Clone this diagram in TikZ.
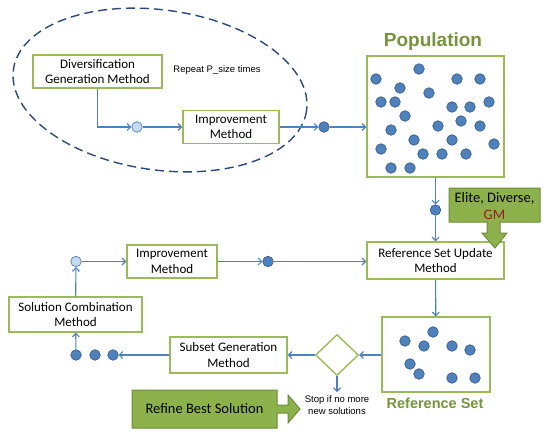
\documentclass[tikz,border=0pt]{standalone}
\usepackage{fontspec}
\setmainfont{Carlito}
\newfontfamily\arialf{Liberation Sans}
\usetikzlibrary{arrows.meta,shapes.geometric,calc}
\definecolor{boxgreen}{HTML}{9BBB59}
\definecolor{titlegreen}{HTML}{77933C}
\definecolor{fillgreen}{HTML}{8DB24C}
\definecolor{edgegreen}{HTML}{6E8B3D}
\definecolor{lineblue}{HTML}{4F81BD}
\definecolor{dotedge}{HTML}{385D8A}
\definecolor{lightdot}{HTML}{C6D9F1}
\definecolor{dashblue}{HTML}{2B4A78}
\definecolor{gmred}{HTML}{8B2323}
\tikzset{
  mbox/.style={draw=boxgreen, line width=1.4pt, fill=white, align=center, inner sep=0pt,
    font=\fontsize{13}{15.5}\selectfont},
  dot/.style={circle, fill=lineblue, draw=dotedge, line width=0.7pt, minimum size=10.5pt, inner sep=0pt},
  ldot/.style={circle, fill=lightdot, draw=lineblue, line width=0.7pt, minimum size=10.5pt, inner sep=0pt},
  arr/.style={draw=lineblue, line width=1.1pt, -{Straight Barb[length=3.5pt,width=7pt]}},
  gtitle/.style={text=titlegreen, font=\arialf\bfseries},
  gshape/.style={fill=fillgreen, draw=edgegreen, line width=1pt},
}
\begin{document}
\begin{tikzpicture}[x=1pt,y=-1pt]
\useasboundingbox (0,0) rectangle (550,437);
% dashed ellipse
\draw[dashblue, line width=1.4pt, dash pattern=on 9pt off 5pt] (160,90) ellipse[x radius=148, y radius=80, rotate=-8];
\node[font=\arialf\fontsize{9.5}{11}\selectfont] (rep) at (217,70) {Repeat P\_size times};

% boxes
\node[mbox, minimum width=129pt, minimum height=33pt] (dgm) at (97.5,71.5) {Diversification\\Generation Method};
\node[mbox, minimum width=96pt, minimum height=33pt] (imp1) at (231,127) {Improvement\\Method};
\node[mbox, minimum width=137pt, minimum height=121pt] (pop) at (435.5,116.5) {};
\node[gtitle, font=\arialf\bfseries\fontsize{19}{22}\selectfont] (poptitle) at (433,42) {Population};
\node[mbox, minimum width=137pt, minimum height=37pt] (rsum) at (435.5,260.5) {Reference Set Update\\Method};
\node[mbox, minimum width=90pt, minimum height=33pt] (imp2) at (172,261.5) {Improvement\\Method};
\node[mbox, minimum width=133pt, minimum height=35pt] (scm) at (75.5,314.5) {Solution Combination\\Method};
\node[mbox, minimum width=117pt, minimum height=36pt] (sgm) at (228.5,355) {Subset Generation\\Method};
\node[mbox, minimum width=108pt, minimum height=75pt] (refset) at (436,354.5) {};
\node[gtitle, font=\arialf\bfseries\fontsize{14.5}{17}\selectfont] (rstitle) at (435,403) {Reference Set};
\node[diamond, draw=boxgreen, line width=1.4pt, fill=white, inner sep=0pt, minimum width=43pt, minimum height=41pt] (dia) at (337,355) {};
\node[font=\arialf\fontsize{9.5}{11.5}\selectfont, align=center] (stop) at (337,405) {Stop if no more\\new solutions};
\coordinate (stopc) at (337,392);

% circles
\node[ldot] (c1) at (137,127) {};
\node[dot] (d1) at (324,127) {};
\node[dot] (d2) at (435.5,210) {};
\node[ldot] (c2) at (76,261.5) {};
\node[dot] (d3) at (268,261.5) {};
\node[dot] (e1) at (76,355) {};
\node[dot] (e2) at (95,355) {};
\node[dot] (e3) at (113,355) {};

% population dots
\foreach \x/\y [count=\i] in {376/79,419/69,457/79,480/79,400/88,429/93,381/102,395/102,452/107,470/107,489/102,405/116,461/121,438/126,480/126,391/130,414/140,452/140,494/144,381/149,423/154,442/154,466/154,391/168,410/168}
  \node[dot] (p\i) at (\x,\y) {};
% reference set dots
\foreach \x/\y [count=\i] in {433/332,405/341,424/346,452/346,470/350,410/364,419/374,452/378,475/378}
  \node[dot] (r\i) at (\x,\y) {};

% connectors
\draw[arr] (dgm.south) |- (c1);
\draw[arr] (c1) -- (imp1);
\draw[arr] (imp1) -- (d1);
\draw[arr] (d1) -- (d1 -| pop.west);
\draw[arr] (pop.south) -- (d2);
\draw[arr] (d2) -- (rsum);
\draw[arr] (rsum) -- (refset);
\draw[arr] (refset.west |- dia) -- (dia.east);
\draw[arr] (dia.west) -- (dia -| sgm.east);
\draw[arr] (dia.south) -- (stopc);
\draw[arr] (sgm.west |- e3) -- (e3);
\draw[arr] (e1) -- (scm);
\draw[arr] (scm) -- (c2);
\draw[arr] (c2) -- (imp2);
\draw[arr] (imp2) -- (d3);
\draw[arr] (d3) -- (d3 -| rsum.west);

% Elite callout
\draw[gshape] (449,188) -- (540,188) -- (540,222) -- (500,222) -- (500,233) -- (507,233) -- (495,248) -- (482,233) -- (487,233) -- (487,222) -- (449,222) -- cycle;
\node[align=center, font=\fontsize{14.5}{17}\selectfont] (elite) at (494.5,206.5) {Elite, Diverse,\\\textcolor{gmred}{GM}};

% Refine arrow
\draw[gshape] (132,390) -- (277,390) -- (277,405) -- (288,405) -- (288,395) -- (300,409) -- (288,423) -- (288,413) -- (277,413) -- (277,428) -- (132,428) -- cycle;
\node[font=\fontsize{14.5}{17}\selectfont] (refine) at (204.5,409) {Refine Best Solution};
\end{tikzpicture}
\end{document}
